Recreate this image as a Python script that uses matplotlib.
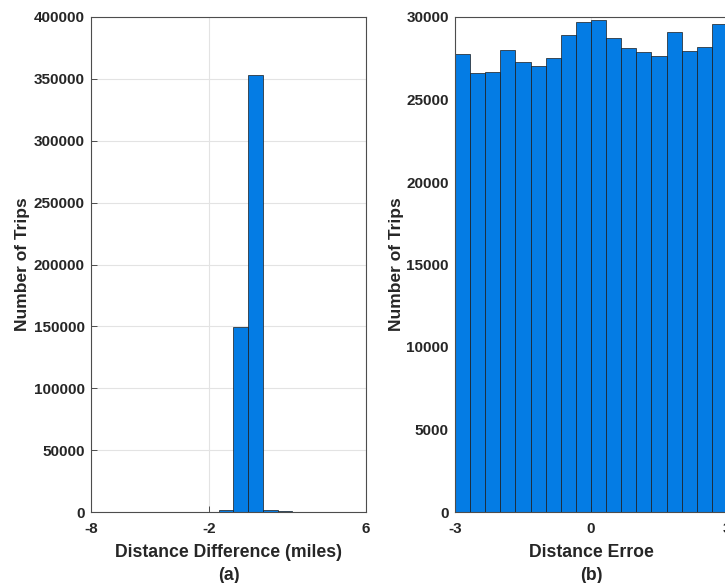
import matplotlib
matplotlib.use("Agg")
import matplotlib.pyplot as plt
import numpy as np

# Panel (a) data: histogram of distance difference (miles)
a_edges = [-2.25, -1.5, -0.75, 0.0, 0.75, 1.5, 2.25]
a_counts = [300, 1500, 149300, 353400, 2000, 500]
a_xticks = [-8, -2, 6]
a_yticks = [0, 50000, 100000, 150000, 200000, 250000, 300000, 350000, 400000]

# Panel (b) data: histogram of distance error
b_edges = [-3 + i / 3 for i in range(19)]
b_counts = [27740, 26610, 26690, 28020, 27260, 27020, 27500, 28890, 29710,
            29840, 28730, 28140, 27860, 27620, 29110, 27940, 28170, 29590]
b_xticks = [-3, 0, 3]
b_yticks = [0, 5000, 10000, 15000, 20000, 25000, 30000]

plt.rcParams['font.family'] = ['Liberation Sans', 'DejaVu Sans']
plt.rcParams['font.weight'] = 'bold'

W, H = 725, 583
fig = plt.figure(figsize=(W / 100, H / 100), dpi=100)

bar_color = '#047ce4'
edge_color = '#1a1a1a'
spine_color = '#4d4d4d'
text_color = '#262626'


def style_axes(ax, xlim, ylim, xticks, yticks):
    ax.set_xlim(*xlim)
    ax.set_ylim(*ylim)
    ax.set_xticks(xticks)
    ax.set_yticks(yticks)
    ax.set_xticklabels([str(t) for t in xticks])
    ax.set_yticklabels([str(t) for t in yticks])
    ax.tick_params(direction='in', length=4, width=0.7, colors=spine_color,
                   labelcolor=text_color, labelsize=11)
    ax.tick_params(axis='x', pad=7.5)
    ax.tick_params(axis='y', pad=4.5)
    for lab in ax.get_xticklabels() + ax.get_yticklabels():
        lab.set_fontweight('bold')
    for s in ax.spines.values():
        s.set_color(spine_color)
        s.set_linewidth(0.8)
    ax.grid(True, color='#e3e3e3', linewidth=0.8)
    ax.set_axisbelow(True)


def add_labels(ax, ylab_x, xlab, sub):
    ax.set_ylabel('Number of Trips', fontsize=12.5, fontweight='bold',
                  color=text_color)
    ax.yaxis.set_label_coords(ylab_x, 0.5)
    ax.text(0.5, -32 / 495, xlab, transform=ax.transAxes,
            ha='center', va='top', fontsize=12.7, fontweight='bold',
            color=text_color)
    ax.text(0.5, -55 / 495, sub, transform=ax.transAxes,
            ha='center', va='top', fontsize=12.7, fontweight='bold',
            color=text_color)


# Panel (a)
ax1 = fig.add_axes([91 / W, 1 - 512 / H, 275 / W, 495 / H])
widths_a = np.diff(a_edges)
ax1.bar(a_edges[:-1], a_counts, width=widths_a, align='edge', color=bar_color,
        edgecolor=edge_color, linewidth=0.5, zorder=2)
style_axes(ax1, (-8, 6), (0, 400000), a_xticks, a_yticks)
add_labels(ax1, (30 - 91) / 275, 'Distance Difference (miles)', '(a)')

# Panel (b)
ax2 = fig.add_axes([455 / W, 1 - 512 / H, 272 / W, 495 / H])
widths_b = np.diff(b_edges)
ax2.bar(b_edges[:-1], b_counts, width=widths_b, align='edge', color=bar_color,
        edgecolor=edge_color, linewidth=0.5, zorder=2)
style_axes(ax2, (-3, 3), (0, 30000), b_xticks, b_yticks)
add_labels(ax2, (404 - 455) / 272, 'Distance Erroe', '(b)')

fig.savefig('out.png', dpi=100, facecolor='white')
